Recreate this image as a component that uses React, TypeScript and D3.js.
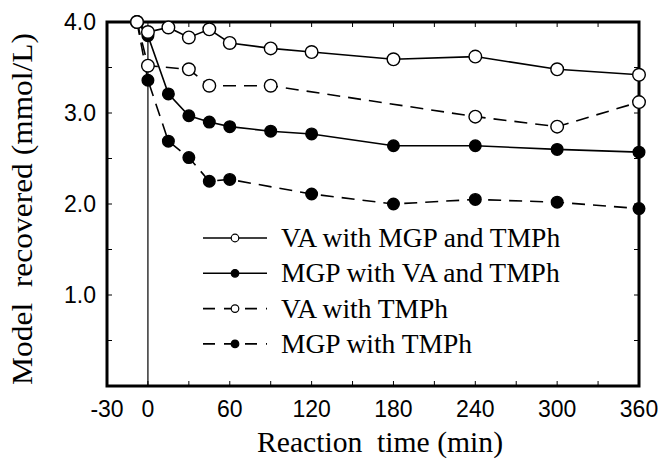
import React from "react";
import * as d3 from "d3";

const W = 661;
const H = 462;

const xTickLabels = [-30, 0, 60, 120, 180, 240, 300, 360];
const xMinorTicks = [-30, 0, 30, 60, 90, 120, 150, 180, 210, 240, 270, 300, 330, 360];
const yTickLabels = [1.0, 2.0, 3.0, 4.0];
const yMinorTicks = [0.5, 1.0, 1.5, 2.0, 2.5, 3.0, 3.5, 4.0];

const vaMgpTime = [-8, 0, 15, 30, 45, 60, 90, 120, 180, 240, 300, 360];
const vaMgpVal = [4.0, 3.89, 3.94, 3.83, 3.92, 3.77, 3.71, 3.67, 3.59, 3.62, 3.48, 3.42];

const mgpVaTime = [-8, 0, 15, 30, 45, 60, 90, 120, 180, 240, 300, 360];
const mgpVaVal = [4.0, 3.85, 3.21, 2.97, 2.9, 2.85, 2.8, 2.77, 2.64, 2.64, 2.6, 2.57];

const vaTime = [-8, 0, 30, 45, 90, 240, 300, 360];
const vaVal = [4.0, 3.52, 3.48, 3.3, 3.3, 2.96, 2.85, 3.12];

const mgpTime = [-8, 0, 15, 30, 45, 60, 120, 180, 240, 300, 360];
const mgpVal = [4.0, 3.36, 2.69, 2.51, 2.25, 2.27, 2.11, 2.0, 2.05, 2.02, 1.95];

const seriesNames = [
  "VA with MGP and TMPh",
  "MGP with VA and TMPh",
  "VA with TMPh",
  "MGP with TMPh",
];

const series = [
  { name: seriesNames[0], t: vaMgpTime, v: vaMgpVal, open: true, dashed: false },
  { name: seriesNames[1], t: mgpVaTime, v: mgpVaVal, open: false, dashed: false },
  { name: seriesNames[2], t: vaTime, v: vaVal, open: true, dashed: true },
  { name: seriesNames[3], t: mgpTime, v: mgpVal, open: false, dashed: true },
];

const left = 107;
const right = 639;
const top = 22;
const bottom = 386;

export default function App() {
  const x = d3.scaleLinear().domain([-30, 360]).range([left, right]);
  const y = d3.scaleLinear().domain([0, 4]).range([bottom, top]);
  const line = d3
    .line<[number, number]>()
    .x((d) => x(d[0]))
    .y((d) => y(d[1]));

  const drawOrder = [1, 3, 2, 0];
  const tickLen = 5;
  const numFont = "'Liberation Sans', Arial, sans-serif";
  const serif = "'Liberation Serif', 'Times New Roman', serif";

  return (
    <svg
      width={W}
      height={H}
      style={{ position: "absolute", left: 0, top: 0, background: "#fff" }}
    >
      <rect x={0} y={0} width={W} height={H} fill="#fff" />
      {/* vertical line at t=0 */}
      <line
        x1={x(0)}
        x2={x(0)}
        y1={y(3.85)}
        y2={y(0)}
        stroke="#000"
        strokeWidth={1.2}
      />
      {/* ticks */}
      {xMinorTicks.map((t) => (
        <g key={"xt" + t}>
          <line x1={x(t)} x2={x(t)} y1={bottom} y2={bottom - tickLen} stroke="#000" strokeWidth={1} />
          <line x1={x(t)} x2={x(t)} y1={top} y2={top + tickLen} stroke="#000" strokeWidth={1} />
        </g>
      ))}
      {yMinorTicks.map((v) => (
        <g key={"yt" + v}>
          <line x1={left} x2={left + tickLen} y1={y(v)} y2={y(v)} stroke="#000" strokeWidth={1} />
          <line x1={right} x2={right - tickLen} y1={y(v)} y2={y(v)} stroke="#000" strokeWidth={1} />
        </g>
      ))}
      {/* series lines */}
      {drawOrder.map((i) => {
        const s = series[i];
        const pts = s.t.map((t, k) => [t, s.v[k]] as [number, number]);
        return (
          <path
            key={"l" + i}
            d={line(pts) || ""}
            fill="none"
            stroke="#000"
            strokeWidth={1.6}
            strokeDasharray={s.dashed ? "13,8" : undefined}
          />
        );
      })}
      {/* frame */}
      <rect
        x={left}
        y={top}
        width={right - left}
        height={bottom - top}
        fill="none"
        stroke="#000"
        strokeWidth={3}
      />
      {/* markers */}
      {drawOrder.map((i) => {
        const s = series[i];
        return (
          <g key={"m" + i}>
            {s.t.map((t, k) => (
              <circle
                key={k}
                cx={x(t)}
                cy={y(s.v[k])}
                r={s.open ? 6.3 : 5.8}
                fill={s.open ? "#fff" : "#000"}
                stroke="#000"
                strokeWidth={1.4}
              />
            ))}
          </g>
        );
      })}
      {/* tick labels */}
      {xTickLabels.map((t) => (
        <text
          key={"xl" + t}
          x={x(t)}
          y={416.5}
          textAnchor="middle"
          fontFamily={numFont}
          fontSize={23}
          fill="#000"
        >
          {t}
        </text>
      ))}
      {yTickLabels.map((v) => (
        <text
          key={"yl" + v}
          x={96}
          y={y(v) + 8}
          textAnchor="end"
          fontFamily={numFont}
          fontSize={23}
          fill="#000"
        >
          {v.toFixed(1)}
        </text>
      ))}
      {/* axis titles */}
      <text
        x={257}
        y={451.5}
        fontFamily={serif}
        fontSize={29}
        fill="#000"
        textLength={246}
        lengthAdjust="spacingAndGlyphs"
        style={{ whiteSpace: "pre" }}
      >
        {"Reaction  time (min)"}
      </text>
      <text
        transform={`translate(32,209) rotate(-90)`}
        textAnchor="middle"
        fontFamily={serif}
        fontSize={29}
        fill="#000"
        textLength={352}
        lengthAdjust="spacingAndGlyphs"
        style={{ whiteSpace: "pre" }}
      >
        {"Model  recovered (mmol/L)"}
      </text>
      {/* legend */}
      {series.map((s, i) => {
        const ly = 238 + i * 35.3;
        return (
          <g key={"lg" + i}>
            <line
              x1={203}
              x2={267}
              y1={ly}
              y2={ly}
              stroke="#000"
              strokeWidth={1.6}
              strokeDasharray={s.dashed ? "12,9" : undefined}
            />
            <circle
              cx={235}
              cy={ly}
              r={3.8}
              fill={s.open ? "#fff" : "#000"}
              stroke="#000"
              strokeWidth={1.2}
            />
            <text
              x={281}
              y={ly + 9}
              fontFamily={serif}
              fontSize={27.5}
              fill="#000"
            >
              {s.name}
            </text>
          </g>
        );
      })}
    </svg>
  );
}
